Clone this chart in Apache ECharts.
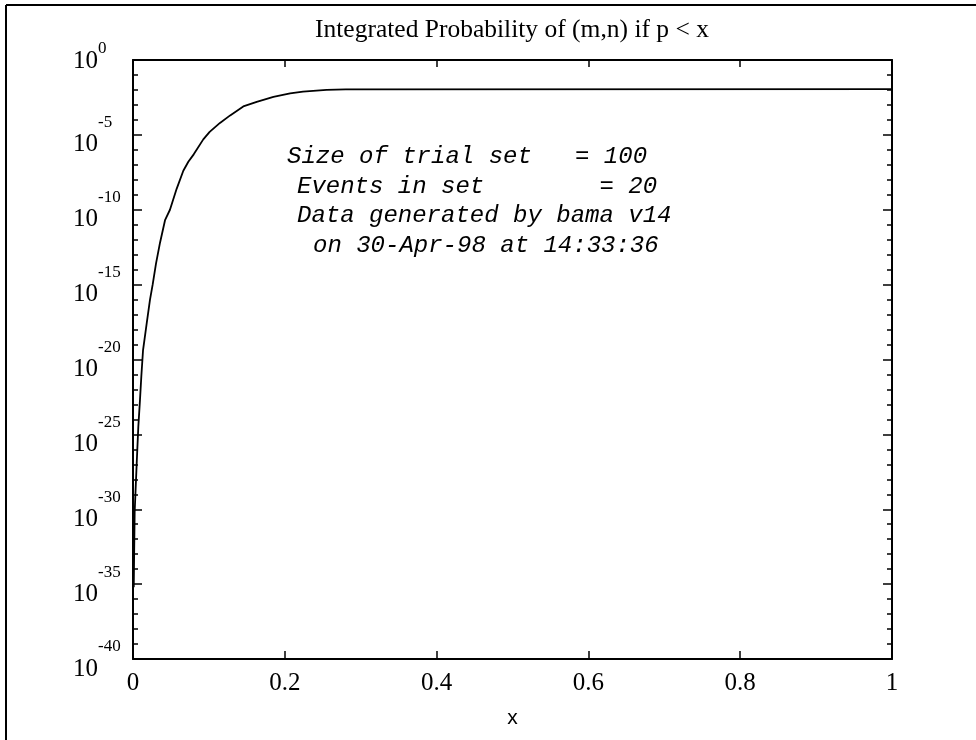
<!DOCTYPE html>
<html><head><meta charset="utf-8">
<script src="https://cdn.jsdelivr.net/npm/echarts@6/dist/echarts.min.js"></script>
<style>html,body{margin:0;padding:0;background:#fff}#c{width:976px;height:740px}</style>
</head><body><div id="c"></div>
<script>
// ---- data ----
const xValues = [0.0010, 0.0015, 0.0022, 0.0035, 0.0050, 0.0070, 0.0092, 0.0110, 0.0132, 0.0180,
  0.0224, 0.0259, 0.0303, 0.0356, 0.0422, 0.0487, 0.0575, 0.0663, 0.0729, 0.0800,
  0.0926, 0.1010, 0.1146, 0.1280, 0.1453, 0.1630, 0.1850, 0.2070, 0.2240, 0.2550,
  0.2800, 1.0000];
const probValues = [6.3e-36, 1.0e-33, 6.3e-31, 2.5e-29, 1.6e-27, 3.2e-25, 2.0e-23, 7.9e-22, 4.0e-20, 2.5e-18,
  1.0e-16, 1.0e-15, 2.5e-14, 6.3e-13, 2.0e-11, 1.0e-10, 2.5e-9, 4.0e-8, 1.6e-7, 5.0e-7,
  5.0e-6, 1.6e-5, 6.3e-5, 2.0e-4, 7.9e-4, 1.6e-3, 3.5e-3, 6.0e-3, 7.8e-3, 1.0e-2,
  1.10e-2, 1.12e-2];
const xTickValues = [0, 0.2, 0.4, 0.6, 0.8, 1];
const yMinExp = -40, yMaxExp = 0;          // decades shown on the log axis
const yLabelStepExp = 5;                   // labelled decades
const titleText = 'Integrated Probability of (m,n) if p < x';
const xAxisName = 'x';
const noteLines = [
  'Size of trial set   = 100',
  'Events in set        = 20',
  'Data generated by bama v14',
  'on 30-Apr-98 at 14:33:36'
];
const noteX = [287, 297, 297, 313];
const noteY = [157, 187, 216, 246];

// ---- chart ----
const chart = echarts.init(document.getElementById('c'), null, {renderer: 'canvas'});
const serif = '"Liberation Serif", "Times New Roman", serif';
const axisCol = '#000';

const decoY = (pos, interval, len, withLine, withLabel) => ({
  type: 'value', position: pos, min: yMinExp, max: yMaxExp, interval: interval,
  axisLine: {show: withLine, lineStyle: {color: axisCol, width: 2}},
  axisTick: {show: true, inside: true, length: len, lineStyle: {color: axisCol, width: 1.5}},
  splitLine: {show: false},
  axisLabel: withLabel ? {
    show: true, align: 'left', margin: 60, color: '#000',
    formatter: v => v === yMaxExp ? '{bt|10}{et|' + v + '}' : '{b|10}{e|' + v + '}',
    rich: {
      bt: {fontFamily: serif, fontSize: 25, lineHeight: 26, padding: [7, 0, 5, 0], color: '#000'},
      et: {fontFamily: serif, fontSize: 17, lineHeight: 12, padding: [2, 0, 24, 0], color: '#000'},
      b: {fontFamily: serif, fontSize: 25, lineHeight: 26, padding: [22, 0, 2, 0], color: '#000'},
      e: {fontFamily: serif, fontSize: 17, lineHeight: 12, padding: [7, 0, 31, 0], color: '#000'}
    }
  } : {show: false}
});

const option = {
  animation: false,
  backgroundColor: '#fff',
  title: {
    text: titleText, left: 512, top: 17, textAlign: 'center', padding: 0,
    textStyle: {fontFamily: serif, fontSize: 25.5, fontWeight: 'normal', color: '#000'}
  },
  grid: {left: 133, right: 84, top: 60, bottom: 81, containLabel: false},
  xAxis: [
    {
      type: 'value', position: 'bottom', min: xTickValues[0], max: xTickValues[xTickValues.length - 1],
      interval: xTickValues[1] - xTickValues[0],
      name: xAxisName, nameLocation: 'middle', nameGap: 49,
      nameTextStyle: {fontFamily: '"Liberation Sans", Arial, sans-serif', fontSize: 21, color: '#000'},
      axisLine: {show: true, lineStyle: {color: axisCol, width: 2}},
      axisTick: {show: true, inside: true, length: 8, lineStyle: {color: axisCol, width: 1.5}},
      axisLabel: {show: true, margin: 12, fontFamily: serif, fontSize: 25, color: '#000'},
      splitLine: {show: false}
    },
    {
      type: 'value', position: 'top', min: xTickValues[0], max: xTickValues[xTickValues.length - 1],
      interval: xTickValues[1] - xTickValues[0],
      axisLine: {show: true, lineStyle: {color: axisCol, width: 2}},
      axisTick: {show: true, inside: true, length: 7, lineStyle: {color: axisCol, width: 1.5}},
      axisLabel: {show: false}, splitLine: {show: false}
    }
  ],
  yAxis: [
    {type: 'log', logBase: 10, min: Math.pow(10, yMinExp), max: Math.pow(10, yMaxExp), show: false,
     splitLine: {show: false}},
    decoY('left', 1, 5, true, false),
    decoY('left', yLabelStepExp, 9, false, true),
    decoY('right', 1, 5, true, false),
    decoY('right', yLabelStepExp, 9, false, false)
  ],
  series: [{
    type: 'line', xAxisIndex: 0, yAxisIndex: 0,
    data: xValues.map((x, i) => [x, probValues[i]]),
    showSymbol: false, symbol: 'none',
    lineStyle: {color: '#000', width: 1.8}
  }],
  graphic: [
    {type: 'line', shape: {x1: 6, y1: 5, x2: 976, y2: 5}, style: {stroke: '#000', lineWidth: 2}},
    {type: 'line', shape: {x1: 6, y1: 5, x2: 6, y2: 740}, style: {stroke: '#000', lineWidth: 2}}
  ].concat(noteLines.map((t, i) => ({
    type: 'text', x: noteX[i], y: noteY[i],
    style: {text: t, font: 'italic 24px "Liberation Mono", "Courier New", monospace',
            fill: '#000', verticalAlign: 'middle', textVerticalAlign: 'middle'}
  })))
};
chart.setOption(option);
</script>
</body></html>
